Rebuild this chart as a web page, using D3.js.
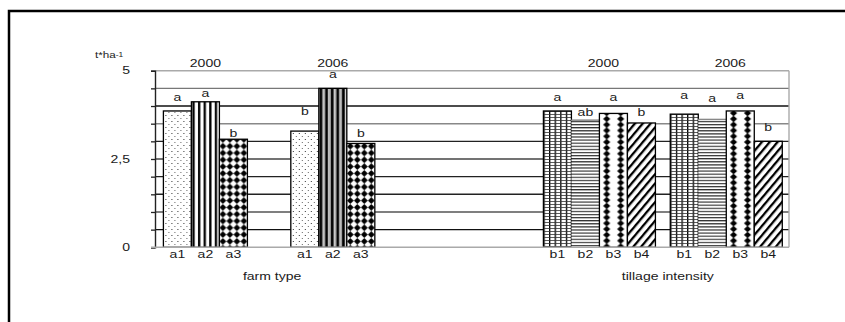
<!DOCTYPE html>
<html><head><meta charset="utf-8">
<script src="https://cdn.jsdelivr.net/npm/d3@7"></script>
<style>html,body{margin:0;padding:0;background:#fff;}svg{display:block;}</style>
</head><body>
<script>
// ---------- DATA ----------
const groupNames   = ["2000", "2006", "2000", "2006"];
const groupFactor  = ["farm type", "farm type", "tillage intensity", "tillage intensity"];
const farmCats     = ["a1", "a2", "a3"];
const tillCats     = ["b1", "b2", "b3", "b4"];
const farm2000     = [3.86, 4.12, 3.06];
const farm2006     = [3.29, 4.50, 2.94];
const till2000     = [3.86, 3.60, 3.79, 3.52];
const till2006     = [3.77, 3.62, 3.86, 3.00];
const farm2000Sig  = ["a", "a", "b"];
const farm2006Sig  = ["b", "a", "b"];
const till2000Sig  = ["a", "ab", "a", "b"];
const till2006Sig  = ["a", "a", "a", "b"];
// level (t*ha-1) at which each significance letter sits
const farm2000SigLevel = [4.26, 4.36, 3.24];
const farm2006SigLevel = [3.86, 4.90, 3.23];
const till2000SigLevel = [4.26, 3.83, 4.26, 3.83];
const till2006SigLevel = [4.31, 4.22, 4.31, 3.40];
const yTickLabels  = ["0", "2,5", "5"];
const yTickValues  = [0, 2.5, 5];
const unitLabel    = "t*ha";
const unitSup      = "-1";

// ---------- LAYOUT ----------
const W = 845, H = 322;
const plot = {left: 155, right: 789, top: 70.7, bottom: 247.3};
const slotCount = 22.64;
const groupStart = [0.3, 4.85, 13.87, 18.4];
const font = "'Liberation Sans', Arial, sans-serif";
const FS = 10.8, SX = 1.3;

const groups = [
  {cats: farmCats, vals: farm2000, sig: farm2000Sig, lvl: farm2000SigLevel, pat: ["dots","vert","diam"]},
  {cats: farmCats, vals: farm2006, sig: farm2006Sig, lvl: farm2006SigLevel, pat: ["dots","vertG","diam"]},
  {cats: tillCats, vals: till2000, sig: till2000Sig, lvl: till2000SigLevel, pat: ["grid","hor","diam2","diag"]},
  {cats: tillCats, vals: till2006, sig: till2006Sig, lvl: till2006SigLevel, pat: ["grid","hor","diam2","diag"]}
];

const svg = d3.select("body").append("svg").attr("width", W).attr("height", H);
const defs = svg.append("defs");

function txt(sel, x, y, str, anchor, size) {
  return sel.append("text")
    .attr("transform", `translate(${x},${y}) scale(${SX},1)`)
    .attr("dy", "0.35em").attr("text-anchor", anchor || "middle")
    .attr("font-family", font).attr("font-size", size || FS).attr("fill", "#1a1a1a")
    .text(str);
}

// per-bar pattern, aligned to bar's left edge
let pid = 0;
function makePattern(kind, x0) {
  const id = "p" + (pid++);
  let w, h, bg;
  switch (kind) {
    case "dots": w = 6; h = 6; bg = "#fff"; break;
    case "vert": w = 5.6; h = 10; bg = "#fff"; break;
    case "vertG": w = 5.6; h = 10; bg = "#999"; break;
    case "diam": w = 7; h = 6.8; bg = "#fff"; break;
    case "grid": w = 5.6; h = 3; bg = "#fff"; break;
    case "hor": w = 10; h = 3.1; bg = "#fff"; break;
    case "diam2": w = 14; h = 5.8; bg = "#fff"; break;
    case "diag": w = 6; h = 6; bg = "#fff"; break;
  }
  const p = defs.append("pattern").attr("id", id).attr("patternUnits", "userSpaceOnUse")
    .attr("x", x0).attr("y", 0).attr("width", w).attr("height", h);
  if (kind === "diag") p.attr("patternTransform", `rotate(40 ${x0} 0)`);
  p.append("rect").attr("width", w).attr("height", h).attr("fill", bg);
  if (kind === "dots") {
    p.append("rect").attr("x", 2).attr("y", 1).attr("width", 1).attr("height", 1).attr("fill", "#333");
    p.append("rect").attr("x", 5).attr("y", 4).attr("width", 1).attr("height", 1).attr("fill", "#666");
  } else if (kind === "vert") {
    p.append("rect").attr("x", 1).attr("width", 2.3).attr("height", h).attr("fill", "#000");
  } else if (kind === "vertG") {
    p.append("rect").attr("x", 1).attr("width", 2.4).attr("height", h).attr("fill", "#000");
    p.append("rect").attr("x", 4).attr("width", 1).attr("height", h).attr("fill", "#e8e8e8");
  } else if (kind === "diam") {
    p.append("path").attr("d", "M3.5,0.1 L6.9,3.4 L3.5,6.7 L0.1,3.4 Z").attr("fill", "#000");
  } else if (kind === "grid") {
    p.append("rect").attr("x", 0).attr("width", 1.3).attr("height", h).attr("fill", "#000");
    p.append("rect").attr("y", 0).attr("width", w).attr("height", 0.8).attr("fill", "#333");
  } else if (kind === "hor") {
    p.append("rect").attr("y", 0).attr("width", w).attr("height", 1.2).attr("fill", "#333");
  } else if (kind === "diam2") {
    p.append("path").attr("d", "M7.3,-0.3 L10.9,2.9 L7.3,6.1 L3.7,2.9 Z").attr("fill", "#000");
  } else if (kind === "diag") {
    p.append("rect").attr("x", 0).attr("width", 2.3).attr("height", h).attr("fill", "#000");
  }
  return "url(#" + id + ")";
}

// frame
svg.append("rect").attr("x", 9).attr("y", 11).attr("width", W + 20).attr("height", H + 20)
  .attr("fill", "none").attr("stroke", "#000").attr("stroke-width", 2.5);

// scales
const y = d3.scaleLinear().domain([0, 5]).range([plot.bottom, plot.top]);
const x = d3.scaleLinear().domain([0, slotCount]).range([plot.left, plot.right]);
const slotW = x(1) - x(0);

// gridlines
const gridVals = d3.range(0.5, 5.01, 0.5);
const gridColor = {"0.5":"#111","1":"#555","1.5":"#222","2":"#222","2.5":"#444","3":"#222","3.5":"#888","4":"#111","4.5":"#777","5":"#aaa"};
svg.append("g").selectAll("line").data(gridVals).join("line")
  .attr("x1", plot.left).attr("x2", plot.right)
  .attr("y1", d => y(d)).attr("y2", d => y(d))
  .attr("stroke", d => gridColor[String(d)] || "#222").attr("stroke-width", 1.4);
svg.append("line").attr("x1", plot.right).attr("x2", plot.right).attr("y1", y(5)).attr("y2", y(0))
  .attr("stroke", "#aaa").attr("stroke-width", 1.4);

// bars
groups.forEach((g, gi) => {
  const gg = svg.append("g");
  g.vals.forEach((v, i) => {
    const x0 = x(groupStart[gi] + i);
    const isB2 = g.pat[i] === "hor";
    gg.append("rect").attr("x", x0).attr("y", y(v)).attr("width", slotW).attr("height", y(0) - y(v))
      .attr("fill", makePattern(g.pat[i], x0))
      .attr("stroke", isB2 ? "none" : "#000").attr("stroke-width", 1.3);
    if (isB2) {
      gg.append("line").attr("x1", x0).attr("x2", x0 + slotW).attr("y1", y(v)).attr("y2", y(v))
        .attr("stroke", "#888").attr("stroke-width", 1.5);
    }
    txt(gg, x0 + slotW / 2, y(g.lvl[i]), g.sig[i]);
    txt(gg, x0 + slotW / 2, 254, g.cats[i]);
  });
  const cx = (x(groupStart[gi]) + x(groupStart[gi] + g.vals.length)) / 2;
  txt(svg, cx + (gi >= 2 ? 4 : 0), 63, groupNames[gi]);
});

// factor labels
txt(svg, (x(groupStart[0]) + x(groupStart[1] + 3)) / 2 + 3, 276, groupFactor[0]);
txt(svg, (x(groupStart[2]) + x(groupStart[3] + 4)) / 2 + 5, 276, groupFactor[2]);

// y axis
const yAxis = d3.axisLeft(y).tickValues(d3.range(0, 5.01, 0.5)).tickSize(4).tickFormat("");
const ya = svg.append("g").attr("transform", `translate(${plot.left},0)`).call(yAxis);
ya.select(".domain").attr("stroke", "#222").attr("stroke-width", 1.4);
ya.selectAll(".tick line").attr("stroke", "#222").attr("stroke-width", 1.3);
svg.append("line").attr("x1", plot.left - 4).attr("x2", plot.right).attr("y1", y(0)).attr("y2", y(0))
  .attr("stroke", "#aaa").attr("stroke-width", 1.6);
yTickValues.forEach((d, i) => txt(svg, 130, y(d), yTickLabels[i], "end"));

// unit label
const ut = svg.append("text").attr("transform", `translate(95,55) scale(${SX},1)`).attr("dy", "0.35em")
  .attr("font-family", font).attr("font-size", 9).attr("fill", "#1a1a1a");
ut.append("tspan").text(unitLabel);
ut.append("tspan").attr("font-size", 6.5).attr("dy", "-0.25em").text(unitSup);
</script>
</body></html>
